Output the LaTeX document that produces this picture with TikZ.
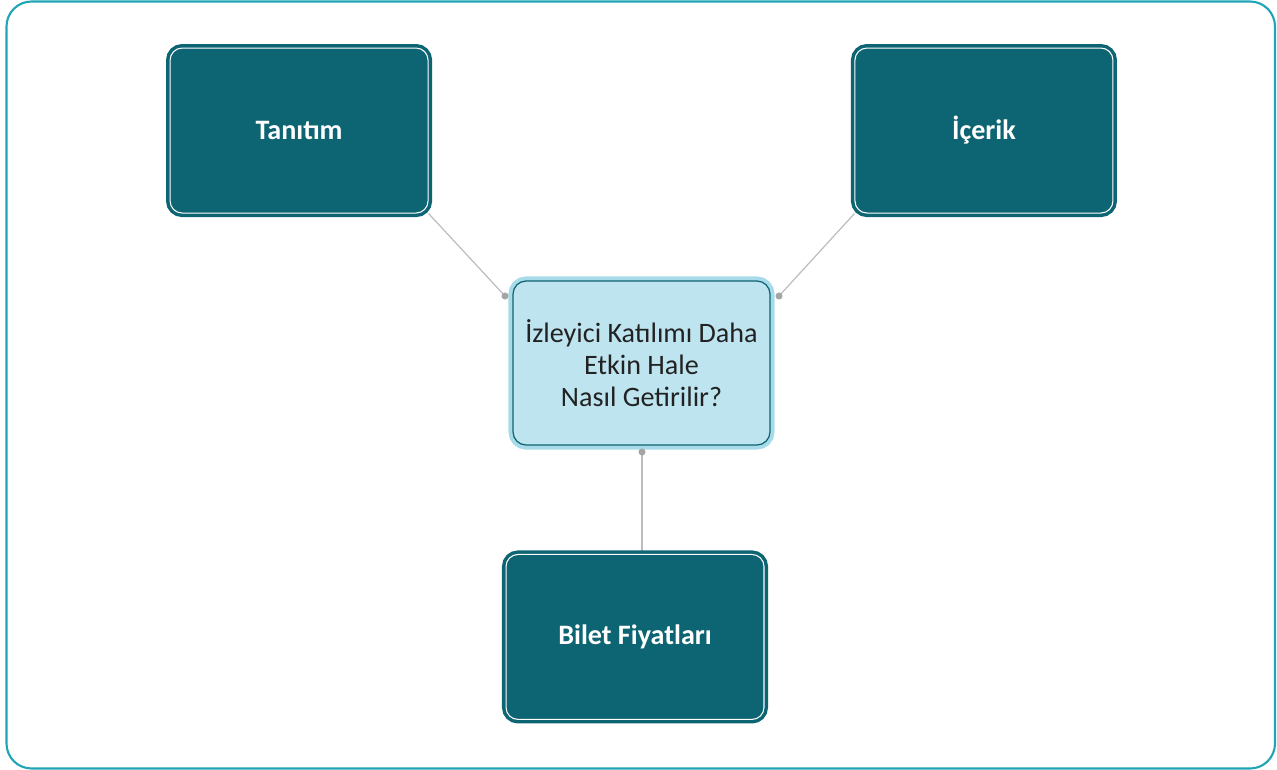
\documentclass[tikz,border=0pt]{standalone}
\usepackage{fontspec}
\setmainfont{Carlito}
\usetikzlibrary{backgrounds}
\definecolor{boxteal}{HTML}{0D6472}
\definecolor{qfill}{HTML}{BDE4EF}
\definecolor{qband}{HTML}{A8DBE9}
\definecolor{framecol}{HTML}{1FA5B6}
\definecolor{linkgray}{HTML}{BDBDBD}
\definecolor{dotgray}{HTML}{A5A5A5}
\definecolor{qtext}{HTML}{222222}

\begin{document}
\begin{tikzpicture}[x=0.02cm, y=-0.02cm, node distance=5.5cm,
    topic/.style={rectangle, rounded corners=0.24cm, minimum width=5.16cm, minimum height=3.3cm,
        fill=boxteal, draw=white, line width=0.6pt, preaction={draw=boxteal, line width=4.6pt},
        text=white, font=\fontsize{16}{19}\selectfont\bfseries},
    question/.style={rectangle, rounded corners=0.26cm, minimum width=5.14cm, minimum height=3.28cm,
        fill=qfill, draw=boxteal, line width=0.7pt, preaction={draw=qband, line width=5.2pt},
        align=center, text=qtext, font=\fontsize{16}{18.4}\selectfont},
    linkline/.style={draw=linkgray, line width=0.7pt}]
    \useasboundingbox (0,0) rectangle (1277,770);
    \draw[framecol, line width=1.2pt, rounded corners=0.5cm] (6.5,1.5) rectangle (1275,768.5);

    \node (q) [question] at (641.5,363) {İzleyici Katılımı Daha\\Etkin Hale\\Nasıl Getirilir?};
    \node (bilet) [topic, node distance=5.48cm, below of=q, xshift=-0.13cm] {Bilet Fiyatları};
    \node (tanitim) [topic, node distance=4.65cm, above of=q, xshift=-6.85cm] {Tanıtım};
    \node (icerik) [topic, node distance=4.65cm, above of=q, xshift=6.85cm] {İçerik};

    \coordinate (dl) at (505,296);
    \coordinate (dr) at (779,296);
    \coordinate (db) at (642,452);

    \begin{scope}[on background layer]
        \draw[linkline] (dl) -- (tanitim.south east);
        \draw[linkline] (dr) -- (icerik.south west);
        \draw[linkline] (db) -- (db |- bilet.north);
    \end{scope}
    \fill[dotgray] (dl) circle (2pt);
    \fill[dotgray] (dr) circle (2pt);
    \fill[dotgray] (db) circle (2pt);
\end{tikzpicture}
\end{document}
